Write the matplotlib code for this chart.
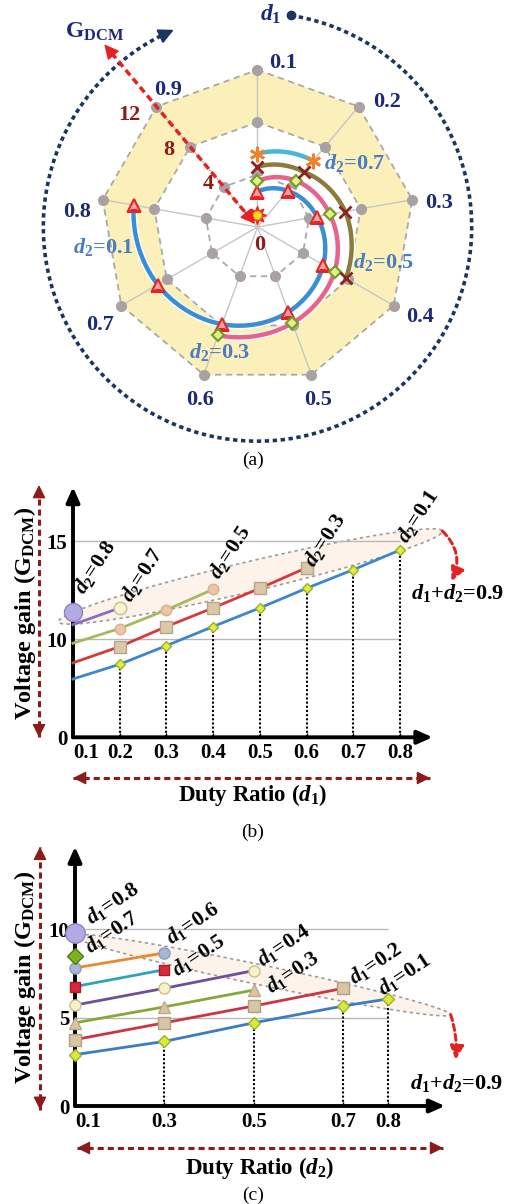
import numpy as np
import matplotlib
matplotlib.use("Agg")
import matplotlib.pyplot as plt
import matplotlib.patheffects as pe
from matplotlib.patches import Ellipse
from matplotlib.transforms import IdentityTransform

plt.rcParams['font.family'] = 'Liberation Serif'
plt.rcParams['font.weight'] = 'bold'
plt.rcParams['mathtext.fontset'] = 'custom'
plt.rcParams['mathtext.rm'] = 'Liberation Serif:bold'
plt.rcParams['mathtext.bf'] = 'Liberation Serif:bold'
plt.rcParams['mathtext.it'] = 'Liberation Serif:italic:bold'

# ---------------- data ----------------
# (a) radar: voltage gain over d1 for several d2
radar_d1 = [0.1, 0.2, 0.3, 0.4, 0.5, 0.6, 0.7, 0.8, 0.9]
radar_rings = [4, 8, 12]
radar_g_d2_01 = [2.7, 3.6, 4.6, 5.8, 6.9, 7.9, 8.8, 9.6]
radar_g_d2_03 = [3.5, 4.6, 5.6, 6.8, 7.8, 8.8]
radar_g_d2_05 = [4.6, 5.5, 6.8, 7.8]
radar_g_d2_07 = [5.6, 6.6]
radar_g_d2_08 = [0.9]

# (b) gain vs d1
b_d1 = [0.1, 0.2, 0.3, 0.4, 0.5, 0.6, 0.7, 0.8]
b_yticks = [0, 10, 15]
b_g_d2_01 = [5.95, 7.45, 9.35, 10.65, 11.6, 12.6, 13.55, 14.55]
b_g_d2_03 = [7.6, 9.25, 10.65, 11.6, 12.6, 13.65]
b_g_d2_05 = [9.6, 10.55, 11.5, 12.55]
b_g_d2_07 = [10.75, 11.6]
b_g_d2_08 = [11.4]

# (c) gain vs d2
c_d2 = [0.1, 0.3, 0.5, 0.7, 0.8]
c_yticks = [0, 5, 10]
c_g_d1_01 = [2.9, 3.65, 4.7, 5.65, 6.05]
c_g_d1_02 = [3.75, 4.7, 5.65, 6.65]
c_g_d1_03 = [4.7, 5.6, 6.55]
c_g_d1_04 = [5.7, 6.65, 7.65]
c_g_d1_05 = [6.75, 7.7]
c_g_d1_06 = [7.8, 8.65]
c_g_d1_07 = [8.45]
c_g_d1_08 = [9.75]

NAVY = '#1d2a78'
DARKRED = '#8c1c1c'
RED = '#e52222'
GRID = '#b8b8b8'
LABBLUE = '#4a7cc4'

W, H = 506, 1204


def px_box(left, top, right, bottom):
    return [left / W, 1 - bottom / H, (right - left) / W, (bottom - top) / H]


def fig_xy(x, y):
    return x / W, 1 - y / H


fig = plt.figure(figsize=(W / 100, H / 100), dpi=100)

# ---------------- (a) radar ----------------
axa = fig.add_axes(px_box(34.8, 4.3, 480.2, 449.7), projection='polar')
axa.set_theta_zero_location('N')
axa.set_theta_direction(-1)
axa.grid(False)
axa.set_xticks([])
axa.set_yticks([])
axa.spines['polar'].set_visible(False)
axa.patch.set_visible(False)

th = np.deg2rad(np.arange(len(radar_d1)) * 40.0)
th_closed = np.append(th, th[0])

# yellow band between ring 8 and ring 12
axa.fill(np.concatenate([th_closed, th_closed[::-1]]),
         np.concatenate([np.full(len(th_closed), radar_rings[2]),
                         np.full(len(th_closed), radar_rings[1])]),
         color='#fbf0b9', ec='none', zorder=0)
for t in th:
    axa.plot([t, t], [0, radar_rings[-1]], color='#c6c6c6', lw=1, zorder=1)
for v in radar_rings:
    axa.plot(th_closed, np.full(len(th_closed), v), ls=(0, (3.5, 2.5)),
             color='#a9a9a9', lw=1.3, zorder=1)
    axa.plot(th, np.full(len(th), v), ls='none', marker='o', ms=7,
             color='#aaa2a2', zorder=2)

radar_series = [
    (radar_g_d2_01, '#3a8ed6', '^', dict(mfc='#f7a3a3', mec='#e42525', ms=9, mew=1.5)),
    (radar_g_d2_03, '#e8638c', 'D', dict(mfc='#e3ee8e', mec='#6f9e22', ms=6.5, mew=1.5)),
    (radar_g_d2_05, '#8b7c3c', 'x', dict(mec='#8e2222', ms=9, mew=2)),
    (radar_g_d2_07, '#4ab6d8', (6, 2, 0), dict(mec='#f08228', ms=11, mew=2)),
]
for g, col, mk, mstyle in radar_series:
    t = th[:len(g)]
    ln, = axa.plot(t, g, color=col, lw=3.2, zorder=3, solid_capstyle='butt',
                   path_effects=[pe.Stroke(linewidth=5.2, foreground='white'), pe.Normal()])
    ln.get_path()._interpolation_steps = 64   # follow the polar grid (spiral arcs)
    axa.plot(t, g, ls='none', marker=mk, zorder=5, **mstyle)

axa.plot(th[:1], radar_g_d2_08, ls='none', marker=(8, 1, 0), ms=13, color='#e52a1e', zorder=5)
axa.plot(th[:1], radar_g_d2_08, ls='none', marker='o', ms=6, mfc='#f6e21c', mec='#f09a10', zorder=6)

# spoke labels
spoke_lab_pos = [(8.8, 12.7), (46, 13.7), (82.5, 14.0), (119, 14.2), (160.7, 14.0),
                 (198.4, 13.9), (238.1, 14.2), (274.8, 13.8), (326.8, 12.5)]
for d, (ang, r) in zip(radar_d1, spoke_lab_pos):
    axa.text(np.deg2rad(ang), r, f'{d:.1f}', color=NAVY, fontsize=16,
             ha='center', va='center')
# ring labels
for v in radar_rings:
    axa.text(np.deg2rad(311), v + 1.0, str(v), color=DARKRED, fontsize=16,
             ha='center', va='center')
axa.text(np.deg2rad(172), 1.4, '0', color=DARKRED, fontsize=16, ha='center', va='center')

# curve labels
radar_lab = [('0.1', 262.6, 11.9), ('0.3', 196.7, 10.0), ('0.5', 105.5, 10.0), ('0.7', 56.6, 8.9)]
for s, ang, r in radar_lab:
    axa.text(np.deg2rad(ang), r, r'$d_2$=' + s, color=LABBLUE, fontsize=16,
             ha='center', va='center', zorder=7)

# outer dotted d1 arc
R_OUT = 16.35
arc, = axa.plot(np.deg2rad([9, 335]), [R_OUT, R_OUT], color='#1a3560', lw=2.6,
                ls=(0, (1.2, 1.0)), clip_on=False)
arc.get_path()._interpolation_steps = 64
axa.annotate('', xy=(np.deg2rad(337), R_OUT), xytext=(np.deg2rad(333), R_OUT),
             arrowprops=dict(arrowstyle='-|>,head_length=0.9,head_width=0.45',
                             color='#1a3560', lw=1.5, shrinkA=0, shrinkB=0),
             annotation_clip=False)
axa.plot(np.deg2rad([9]), [R_OUT], ls='none', marker='o', ms=6, color='#1a3560', clip_on=False)
axa.annotate(r'$d_1$', xy=(np.deg2rad(9), R_OUT), xytext=(-7, 1), textcoords='offset points',
             ha='right', va='center', fontsize=17, color=NAVY, annotation_clip=False)

# red G_DCM axis arrow along the 0.9 spoke
t9 = th[-1]
axa.plot([t9, t9], [0.7, 17.6], color=RED, lw=2.5, ls=(0, (2, 1.2)), clip_on=False, zorder=6)
red_head = dict(arrowstyle='-|>,head_length=0.9,head_width=0.45', color=RED, lw=1,
                shrinkA=0, shrinkB=0)
axa.annotate('', xy=(t9, 0.3), xytext=(t9, 1.6), arrowprops=red_head, annotation_clip=False, zorder=6)
axa.annotate('', xy=(t9, 18.2), xytext=(t9, 16.9), arrowprops=red_head, annotation_clip=False)
axa.text(np.deg2rad(320.2), 19.4, r'G$_{\rm DCM}$', color=NAVY, fontsize=17,
         ha='center', va='center')
axa.set_ylim(0, 17)

fig.text(*fig_xy(253, 460), '(a)', fontsize=14, fontweight='normal', ha='center', va='center')


# ---------------- helpers for (b), (c) ----------------
def frame(ax, xticks, yticks, xend, yend):
    for s in ax.spines.values():
        s.set_visible(False)
    ax.patch.set_visible(False)
    ax.set_xticks(xticks, [f'{v:.1f}' for v in xticks])
    ax.set_yticks(yticks, [str(v) for v in yticks])
    ax.tick_params(axis='x', direction='in', length=3, width=1, pad=4, labelsize=15)
    ax.tick_params(axis='y', length=0, pad=4, labelsize=15)
    ax.get_xticklabels()[0].set_horizontalalignment('left')
    head = dict(arrowstyle='-|>,head_length=0.9,head_width=0.4', color='k', lw=2.8,
                shrinkA=0, shrinkB=0)
    ax.annotate('', xy=(xend, 0), xytext=(xticks[0], 0), arrowprops=head, annotation_clip=False)
    ax.annotate('', xy=(xticks[0], yend), xytext=(xticks[0], 0), arrowprops=head,
                annotation_clip=False)


def dashed_double_arrow(ax, p0, p1):
    (x0, y0), (x1, y1) = p0, p1
    ax.plot([x0, x1], [y0, y1], transform=ax.transAxes, clip_on=False, color=DARKRED,
            lw=2.2, ls=(0, (2, 1.3)))
    dx, dy = (x1 - x0) * 0.03, (y1 - y0) * 0.03
    head = dict(arrowstyle='-|>,head_length=0.8,head_width=0.4', color=DARKRED, lw=1,
                shrinkA=0, shrinkB=0)
    ax.annotate('', xy=(x1, y1), xytext=(x1 - dx, y1 - dy), xycoords='axes fraction',
                arrowprops=head, annotation_clip=False)
    ax.annotate('', xy=(x0, y0), xytext=(x0 + dx, y0 + dy), xycoords='axes fraction',
                arrowprops=head, annotation_clip=False)


def band(ax, p_first, p_last, shift, pad, height, extra_angle=0.0):
    a = ax.transData.transform(p_first)
    b = ax.transData.transform(p_last)
    d = b - a
    ang = np.degrees(np.arctan2(d[1], d[0])) + extra_angle
    c = (a + b) / 2 + np.array(shift)
    w = np.hypot(*d) + pad
    ell = Ellipse(c, w, height, angle=ang, transform=IdentityTransform(), fc='#fdf3ea',
                  ec='#9c9c9c', lw=1.2, ls=(0, (2, 2)), zorder=0.5, clip_on=False)
    ax.add_artist(ell)
    return c + w / 2 * np.array([np.cos(np.radians(ang)), np.sin(np.radians(ang))])


def drop_arrow(ax, tip, drop, rad):
    ax.annotate('', xy=tip + np.array(drop), xycoords='figure pixels', xytext=tip,
                textcoords='figure pixels',
                arrowprops=dict(arrowstyle='-|>,head_length=0.8,head_width=0.4', color=RED,
                                lw=2.2, ls=(0, (2, 1.3)), connectionstyle=f'arc3,rad={rad}',
                                shrinkA=0, shrinkB=0),
                annotation_clip=False)


def series_plot(ax, xs, g, col, mk, mstyle, lab, offs, rot, first_marker=True):
    x = xs[:len(g)]
    if len(g) > 1:
        ax.plot(x, g, color=col, lw=2.0, zorder=3, clip_on=False)
    mx, mg = (x, g) if first_marker else (x[1:], g[1:])
    ax.plot(mx, mg, ls='none', marker=mk, zorder=4, clip_on=False, **mstyle)
    ax.annotate(lab, xy=(x[-1], g[-1]), xytext=offs, textcoords='offset points',
                rotation=rot, rotation_mode='anchor', ha='center', va='center',
                fontsize=15.5, zorder=6)


# ---------------- (b) ----------------
def gain_fwd(v):
    v = np.asarray(v, dtype=float)
    return np.where(v <= 10, v / 10, 1 + (v - 10) / 5)


def gain_inv(u):
    u = np.asarray(u, dtype=float)
    return np.where(u <= 1, u * 10, 10 + (u - 1) * 5)


axb = fig.add_axes(px_box(73, 487, 432.6, 737.3))
axb.set_yscale('function', functions=(gain_fwd, gain_inv))
axb.set_xlim(0.1, 0.87)
axb.set_ylim(0, 17.77)
frame(axb, b_d1, b_yticks, 0.87, 17.77)
axb.hlines(b_yticks[1:], b_d1[0], b_d1[-1], color=GRID, lw=1, zorder=1)
axb.vlines(b_d1[1:], 0, b_g_d2_01[1:], colors='k', linestyles=(0, (1, 1)), lw=1.5, zorder=1)

b_series = [
    (b_g_d2_01, '#3d86cc', 'D', dict(mfc='#e6ea3a', mec='#94b32a', ms=5.5), '0.1', (13, 24)),
    (b_g_d2_03, '#d43a3a', 's', dict(mfc='#d9c9a9', mec='#b9a585', ms=8), '0.3', (13, 20)),
    (b_g_d2_05, '#a9b85e', 'o', dict(mfc='#ecc7a6', mec='#d0b090', ms=7.5), '0.5', (12, 27)),
    (b_g_d2_07, '#8a6cc4', 'o', dict(mfc='#faf5cf', mec='#c8c090', ms=9), '0.7', (16, 24)),
    (b_g_d2_08, None, 'o', dict(mfc='#b3aae3', mec='#8a82c8', ms=13), '0.8', (16, 32)),
]
for g, col, mk, ms_, s, offs in b_series:
    series_plot(axb, b_d1, g, col, mk, ms_, r'$d_2$=' + s, offs, 57,
                first_marker=(col is None))

tip_b = band(axb, (b_d1[0], b_g_d2_08[0]), (b_d1[len(b_g_d2_01) - 1], b_g_d2_01[-1]),
             shift=(14, 4.5), pad=62, height=30, extra_angle=2.6)
drop_arrow(axb, tip_b, (9, -50), -0.35)
fig.text(*fig_xy(458, 593), r'$d_1$+$d_2$=0.9', fontsize=16, ha='center', va='center')

dashed_double_arrow(axb, (-0.0946, 0.0), (-0.0946, 1.008))
dashed_double_arrow(axb, (0.0, -0.1626), (0.993, -0.1626))
fig.text(*fig_xy(25, 613), r'Voltage gain (G$_{\rm DCM}$)', rotation=90, fontsize=17.5,
         ha='center', va='center')
fig.text(*fig_xy(253, 795), r'Duty Ratio ($d_1$)', fontsize=16.5, ha='center', va='center')
fig.text(*fig_xy(253, 832), '(b)', fontsize=14, fontweight='normal', ha='center', va='center')

# ---------------- (c) ----------------
axc = fig.add_axes(px_box(75, 846.7, 445, 1106))
axc.set_xlim(0.1, 0.9277)
axc.set_ylim(0, 14.65)
frame(axc, c_d2, c_yticks, 0.9277, 14.65)
axc.hlines(c_yticks[1:], c_d2[0], c_d2[-1], color=GRID, lw=1, zorder=1)
axc.vlines(c_d2[1:], 0, c_g_d1_01[1:], colors='k', linestyles=(0, (1, 1)), lw=1.5, zorder=1)

c_series = [
    (c_g_d1_01, '#3b7cc4', 'D', dict(mfc='#dde83a', mec='#9ab32a', ms=6), '0.1', (11.5, 17.3)),
    (c_g_d1_02, '#cc3444', 's', dict(mfc='#d6c6a6', mec='#b0a080', ms=8), '0.2', (23, 18)),
    (c_g_d1_03, '#86a83a', '^', dict(mfc='#dcc4a0', mec='#c0a888', ms=8), '0.3', (27.4, 13)),
    (c_g_d1_04, '#6d4f9e', 'o', dict(mfc='#f8f3c6', mec='#c8c090', ms=8), '0.4', (21.6, 18)),
    (c_g_d1_05, '#2fa3b8', 's', dict(mfc='#d8283c', mec='#b01828', ms=6.5), '0.5', (24.5, 10.1)),
    (c_g_d1_06, '#e8892e', 'o', dict(mfc='#a9b7d6', mec='#8a9ac0', ms=8), '0.6', (20.2, 21.6)),
    (c_g_d1_07, None, 'D', dict(mfc='#7fb21e', mec='#4a7a10', ms=8), '0.7', (26.6, 17.3)),
    (c_g_d1_08, None, 'o', dict(mfc='#b3aae3', mec='#8a82c8', ms=14), '0.8', (26.6, 21.6)),
]
for g, col, mk, ms_, s, offs in c_series:
    series_plot(axc, c_d2, g, col, mk, ms_, r'$d_1$=' + s, offs, 34)

tip_c = band(axc, (c_d2[0], c_g_d1_08[0]), (c_d2[len(c_g_d1_01) - 1], c_g_d1_01[-1]),
             shift=(29.5, -8.8), pad=68, height=20)
drop_arrow(axc, tip_c, (5, -45), -0.1)
fig.text(*fig_xy(457, 1083), r'$d_1$+$d_2$=0.9', fontsize=16, ha='center', va='center')

dashed_double_arrow(axc, (-0.0946, -0.015), (-0.0946, 1.0))
dashed_double_arrow(axc, (0.005, -0.162), (0.995, -0.162))
fig.text(*fig_xy(25, 977), r'Voltage gain (G$_{\rm DCM}$)', rotation=90, fontsize=17.5,
         ha='center', va='center')
fig.text(*fig_xy(260, 1168), r'Duty Ratio ($d_2$)', fontsize=16.5, ha='center', va='center')
fig.text(*fig_xy(253, 1195), '(c)', fontsize=14, fontweight='normal', ha='center', va='center')

fig.savefig('out.png', dpi=100)
